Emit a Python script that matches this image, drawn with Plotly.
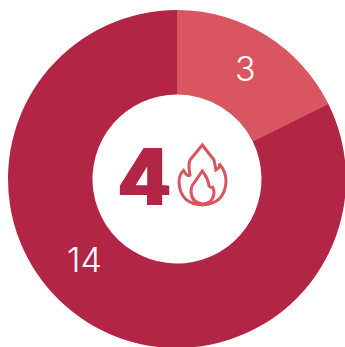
import plotly.graph_objects as go

categories = ["A", "B"]
values = [3, 14]
colors = ["#d95560", "#b32545"]
center_value = "4"

FIG_W, FIG_H = 354, 358
ML, MT, SIDE = 8, 10, 338

def px(x):
    return (x - ML) / SIDE

def py(y):
    return 1 - (y - MT) / SIDE

# Decorative flame icon, outlined in page pixels
flame_outer = [("M", 202.3, 145), ("L", 214, 160), ("L", 216, 170), ("Q", 221, 167, 219, 163.5),
               ("Q", 226.5, 172, 226, 182), ("Q", 224.5, 204, 202.3, 205), ("Q", 180, 204, 179, 182),
               ("Q", 179, 175, 183.5, 170.5), ("Q", 188, 178, 190, 175), ("Q", 188, 165, 190, 160), ("L", 202.3, 145)]
flame_inner = [("M", 202.3, 171), ("Q", 208, 178, 209, 186), ("Q", 213, 189, 212, 186), ("Q", 215, 191, 213.5, 196),
               ("Q", 211, 204, 202.3, 204), ("Q", 192, 203, 191, 192), ("Q", 191, 186, 194, 183), ("L", 202.3, 171)]

def to_path(cmds):
    out = []
    for c in cmds:
        nums = c[1:]
        pts = [f"{px(nums[i]):.5f},{py(nums[i + 1]):.5f}" for i in range(0, len(nums), 2)]
        out.append(c[0] + " ".join(pts))
    return " ".join(out) + " Z"

fig = go.Figure(go.Pie(
    labels=categories, values=values, hole=0.5, sort=False, direction="clockwise", rotation=0,
    marker=dict(colors=colors, line=dict(width=0)), textinfo="none", hoverinfo="skip", showlegend=False,
))

def label(text, x, y, size, color, weight, shadow="none"):
    fig.add_annotation(text=text, x=px(x), y=py(y), xref="paper", yref="paper", showarrow=False,
                       xanchor="center", yanchor="middle",
                       font=dict(family="Inter", size=size, color=color, weight=weight, shadow=shadow))

label(str(values[0]), 245, 68, 34, "#ffffff", 300)
label(str(values[1]), 84, 259, 34, "#ffffff", 300)
c = colors[1]
label(center_value, 144.5, 176, 78, c, 700, f"1px 0 0 {c}, -1px 0 0 {c}, 2px 0 0 {c}, -2px 0 0 {c}")

for cmds in (flame_outer, flame_inner):
    fig.add_shape(type="path", xref="paper", yref="paper", path=to_path(cmds),
                  line=dict(color=colors[0], width=3), fillcolor="rgba(0,0,0,0)")

fig.update_layout(width=FIG_W, height=FIG_H, margin=dict(l=ML, r=FIG_W - ML - SIDE, t=MT, b=FIG_H - MT - SIDE, autoexpand=False),
                  paper_bgcolor="#ffffff", plot_bgcolor="#ffffff")

fig.write_html("out.html", config={"displayModeBar": False},
               post_script="document.body.style.margin='0';document.documentElement.style.overflow='hidden';document.body.style.overflow='hidden';")
